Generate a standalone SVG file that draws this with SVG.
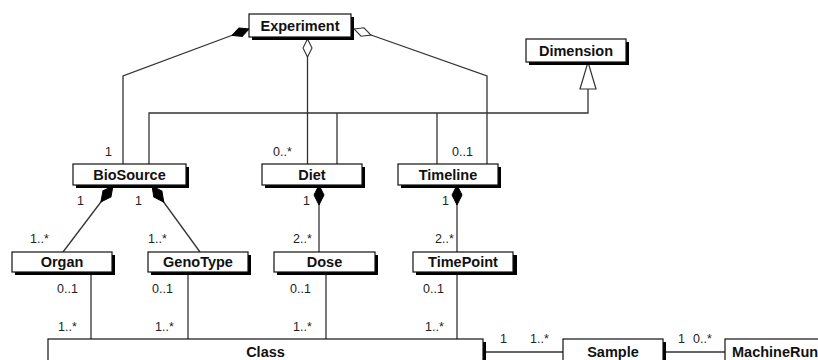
<svg xmlns="http://www.w3.org/2000/svg" width="818" height="360" viewBox="0 0 818 360">
<style>
.sh{fill:#000}
.box{fill:#fff;stroke:#111;stroke-width:1.2}
.nt{font-family:"Liberation Sans",Arial,sans-serif;font-weight:bold;font-size:14.5px;fill:#111;text-anchor:middle}
.ml{font-family:"Liberation Sans",Arial,sans-serif;font-size:12.5px;fill:#222}
.ln{fill:none;stroke:#333;stroke-width:1.3}
</style>
<defs>
<marker id="fd" markerUnits="userSpaceOnUse" markerWidth="24" markerHeight="12" refX="1" refY="6" orient="auto" viewBox="0 0 24 12">
<path d="M1,6 L11,1 L21,6 L11,11 Z" fill="#000" stroke="#000" stroke-width="1"/>
</marker>
<marker id="od" markerUnits="userSpaceOnUse" markerWidth="22" markerHeight="12" refX="1" refY="6" orient="auto" viewBox="0 0 22 12">
<path d="M1,6 L10,1.5 L19,6 L10,10.5 Z" fill="#fff" stroke="#333" stroke-width="1.1"/>
</marker>
<marker id="fe" markerUnits="userSpaceOnUse" markerWidth="22" markerHeight="12" refX="1" refY="6" orient="auto" viewBox="0 0 22 12">
<path d="M1,6 L10,1.5 L19,6 L10,10.5 Z" fill="#000" stroke="#000" stroke-width="1"/>
</marker>
</defs>

<g id="connectors">
<path class="ln" d="M249,29 L123,76 L123,164" marker-start="url(#fe)"/>
<path class="ln" d="M307.5,39 L307.5,164" marker-start="url(#od)"/>
<path class="ln" d="M354,29 L487,76 L487,164" marker-start="url(#od)"/>
<path class="ln" d="M588,89 L588,113 L149,113 L149,164 M337,113 L337,164 M437,113 L437,164"/>
<polygon points="588,62 596,89 580,89" fill="#fff" stroke="#333" stroke-width="1.2"/>
<path class="ln" d="M113,186 L63,252" marker-start="url(#fd)"/>
<path class="ln" d="M152,186 L200,252" marker-start="url(#fd)"/>
<path class="ln" d="M319,185 L319,252" marker-start="url(#fd)"/>
<path class="ln" d="M457,185 L457,252" marker-start="url(#fd)"/>
<path class="ln" d="M91,272 L91,339 M188,272 L188,339 M326,272 L326,339 M457,272 L457,339"/>
<path class="ln" d="M486,352 L563,352 M666,352 L725,352"/>
</g>

<g id="Experiment"><rect class="sh" x="252" y="17" width="102" height="23"/><rect class="box" x="249" y="14" width="102" height="23"/><text class="nt" x="300" y="31">Experiment</text></g>
<g id="Dimension"><rect class="sh" x="529" y="42" width="100" height="23"/><rect class="box" x="526" y="39" width="100" height="23"/><text class="nt" x="576" y="56">Dimension</text></g>
<g id="BioSource"><rect class="sh" x="76" y="167" width="113" height="21"/><rect class="box" x="73" y="164" width="113" height="21"/><text class="nt" x="129.5" y="180">BioSource</text></g>
<g id="Diet"><rect class="sh" x="265" y="167" width="100" height="21"/><rect class="box" x="262" y="164" width="100" height="21"/><text class="nt" x="312" y="180">Diet</text></g>
<g id="Timeline"><rect class="sh" x="401" y="167" width="100" height="21"/><rect class="box" x="398" y="164" width="100" height="21"/><text class="nt" x="448" y="180">Timeline</text></g>
<g id="Organ"><rect class="sh" x="15" y="255" width="100" height="20"/><rect class="box" x="12" y="252" width="100" height="20"/><text class="nt" x="62" y="267">Organ</text></g>
<g id="GenoType"><rect class="sh" x="151" y="255" width="100" height="20"/><rect class="box" x="148" y="252" width="100" height="20"/><text class="nt" x="198" y="267">GenoType</text></g>
<g id="Dose"><rect class="sh" x="277" y="255" width="101" height="20"/><rect class="box" x="274" y="252" width="101" height="20"/><text class="nt" x="324.5" y="267">Dose</text></g>
<g id="TimePoint"><rect class="sh" x="416" y="255" width="101" height="20"/><rect class="box" x="413" y="252" width="100" height="20"/><text class="nt" x="463" y="267">TimePoint</text></g>
<g id="Class"><rect class="sh" x="51" y="342" width="435" height="30"/><rect class="box" x="48" y="339" width="435" height="30"/><text class="nt" x="265.5" y="357">Class</text></g>
<g id="Sample"><rect class="sh" x="566" y="342" width="100" height="30"/><rect class="box" x="563" y="339" width="100" height="30"/><text class="nt" x="613" y="357">Sample</text></g>
<g id="MachineRun"><rect class="sh" x="728" y="342" width="110" height="30"/><rect class="box" x="725" y="339" width="110" height="30"/><text class="nt" x="732" y="357" style="text-anchor:start">MachineRun</text></g>

<g id="labels">
<text class="ml" x="105" y="156">1</text>
<text class="ml" x="273" y="156">0..*</text>
<text class="ml" x="452" y="156">0..1</text>
<text class="ml" x="77" y="205">1</text>
<text class="ml" x="135" y="205">1</text>
<text class="ml" x="303" y="205">1</text>
<text class="ml" x="442" y="205">1</text>
<text class="ml" x="30" y="243">1..*</text>
<text class="ml" x="148" y="243">1..*</text>
<text class="ml" x="293" y="243">2..*</text>
<text class="ml" x="435" y="243">2..*</text>
<text class="ml" x="57" y="293">0..1</text>
<text class="ml" x="152" y="293">0..1</text>
<text class="ml" x="290" y="293">0..1</text>
<text class="ml" x="423" y="293">0..1</text>
<text class="ml" x="58" y="331">1..*</text>
<text class="ml" x="155" y="331">1..*</text>
<text class="ml" x="293" y="331">1..*</text>
<text class="ml" x="425" y="331">1..*</text>
<text class="ml" x="500" y="343">1</text>
<text class="ml" x="530" y="343">1..*</text>
<text class="ml" x="678" y="343">1</text>
<text class="ml" x="693" y="343">0..*</text>
</g>
</svg>
